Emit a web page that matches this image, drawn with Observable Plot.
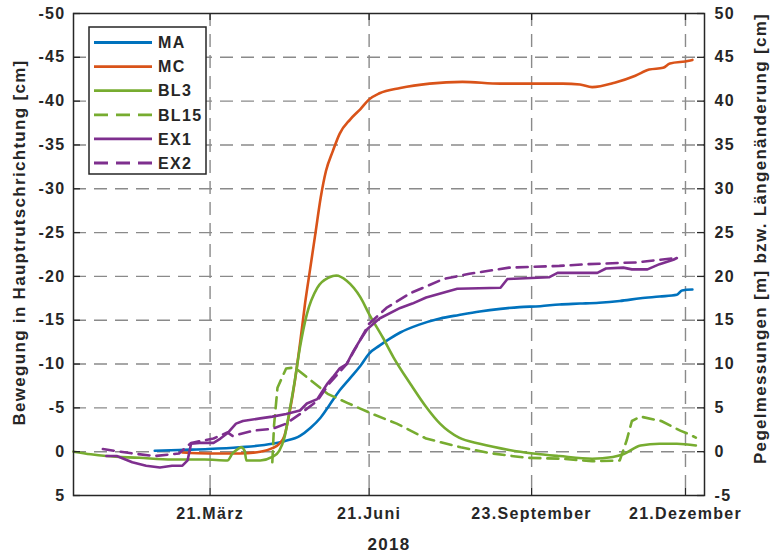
<!DOCTYPE html>
<html><head><meta charset="utf-8">
<script src="https://cdn.jsdelivr.net/npm/d3@7"></script>
<script src="https://cdn.jsdelivr.net/npm/@observablehq/plot@0.6"></script>
<style>
body{margin:0;background:#fff;}
#chart{position:relative;width:771px;height:555px;}
</style></head><body><div id="chart"></div>
<script>
// ---- data (dates in 2018, values as on the right axis; left axis shows the negated value) ----
const MA = [["2018-02-17",0.1],["2018-03-03",0.2],["2018-03-20",0.3],["2018-04-07",0.5],["2018-04-26",0.9],["2018-05-03",1.2],["2018-05-12",1.8],["2018-05-18",2.7],["2018-05-24",3.9],["2018-05-29",5.3],["2018-06-04",7.0],["2018-06-10",8.4],["2018-06-16",9.8],["2018-06-21",11.2],["2018-06-27",12.1],["2018-07-03",12.9],["2018-07-09",13.6],["2018-07-20",14.5],["2018-08-01",15.2],["2018-08-12",15.6],["2018-08-24",16.0],["2018-09-05",16.3],["2018-09-16",16.5],["2018-09-28",16.6],["2018-10-09",16.8],["2018-10-21",16.9],["2018-11-01",17.0],["2018-11-13",17.2],["2018-11-25",17.5],["2018-12-06",17.7],["2018-12-16",17.9],["2018-12-19",18.4],["2018-12-25",18.5]];
const MC = [["2018-03-05",-0.1],["2018-03-20",-0.2],["2018-04-07",-0.2],["2018-04-19",0.0],["2018-04-26",0.4],["2018-04-30",0.9],["2018-05-03",1.8],["2018-05-06",4.5],["2018-05-09",8.0],["2018-05-12",12.3],["2018-05-15",17.0],["2018-05-18",21.0],["2018-05-21",25.0],["2018-05-24",29.0],["2018-05-27",32.0],["2018-05-31",34.3],["2018-06-04",36.3],["2018-06-10",37.9],["2018-06-16",39.1],["2018-06-21",40.2],["2018-06-27",40.9],["2018-07-09",41.5],["2018-07-26",42.0],["2018-08-14",42.2],["2018-09-05",42.0],["2018-09-22",42.0],["2018-10-11",42.0],["2018-10-21",41.9],["2018-10-28",41.6],["2018-11-10",42.1],["2018-11-22",42.9],["2018-11-30",43.6],["2018-12-08",43.8],["2018-12-12",44.3],["2018-12-23",44.6],["2018-12-25",44.7]];
const BL3 = [["2018-01-01",0.0],["2018-01-11",-0.3],["2018-01-20",-0.5],["2018-02-08",-0.7],["2018-02-27",-0.9],["2018-03-18",-0.9],["2018-03-31",-1.0],["2018-04-03",-0.2],["2018-04-06",0.3],["2018-04-08",0.5],["2018-04-10",0.1],["2018-04-11",-1.0],["2018-04-19",-1.0],["2018-04-26",-0.6],["2018-04-30",0.1],["2018-05-03",1.6],["2018-05-06",4.7],["2018-05-09",8.1],["2018-05-12",11.9],["2018-05-16",15.7],["2018-05-22",18.7],["2018-05-29",19.9],["2018-06-02",20.1],["2018-06-08",19.5],["2018-06-16",17.6],["2018-06-21",15.7],["2018-06-29",13.0],["2018-07-05",10.8],["2018-07-15",7.7],["2018-07-24",5.1],["2018-08-01",3.2],["2018-08-12",1.6],["2018-08-24",0.9],["2018-09-10",0.2],["2018-09-24",-0.2],["2018-10-09",-0.5],["2018-10-28",-0.8],["2018-11-09",-0.6],["2018-11-15",-0.3],["2018-11-25",0.7],["2018-12-06",0.9],["2018-12-16",0.9],["2018-12-27",0.7]];
const BL15 = [["2018-04-26",-1.2],["2018-04-27",3.0],["2018-04-29",7.3],["2018-05-04",9.5],["2018-05-09",9.6],["2018-05-16",8.5],["2018-05-28",6.6],["2018-06-08",5.6],["2018-06-23",4.3],["2018-07-07",3.2],["2018-07-24",1.5],["2018-08-13",0.5],["2018-08-31",-0.2],["2018-09-20",-0.7],["2018-10-10",-0.8],["2018-10-28",-1.1],["2018-11-13",-1.0],["2018-11-17",1.3],["2018-11-20",3.5],["2018-11-25",4.0],["2018-12-07",3.5],["2018-12-18",2.4],["2018-12-23",2.0],["2018-12-27",1.6]];
const EX1 = [["2018-01-20",-0.5],["2018-01-26",-0.5],["2018-02-04",-1.2],["2018-02-12",-1.6],["2018-02-20",-1.8],["2018-02-27",-1.6],["2018-03-05",-1.6],["2018-03-08",-1.0],["2018-03-10",0.9],["2018-03-15",1.0],["2018-03-23",1.0],["2018-03-27",1.5],["2018-03-31",2.1],["2018-04-05",3.2],["2018-04-09",3.5],["2018-04-19",3.8],["2018-04-26",4.0],["2018-05-04",4.3],["2018-05-12",4.7],["2018-05-16",5.5],["2018-05-22",6.0],["2018-05-28",7.8],["2018-05-31",8.5],["2018-06-04",9.5],["2018-06-08",10.0],["2018-06-12",11.5],["2018-06-16",12.8],["2018-06-20",14.0],["2018-06-27",15.2],["2018-07-09",16.4],["2018-07-16",16.9],["2018-07-24",17.6],["2018-08-11",18.6],["2018-09-05",18.7],["2018-09-09",19.7],["2018-10-03",19.9],["2018-10-08",20.4],["2018-10-31",20.4],["2018-11-05",20.9],["2018-11-15",21.0],["2018-11-20",20.8],["2018-11-29",20.8],["2018-12-06",21.4],["2018-12-14",21.9],["2018-12-16",22.1]];
const EX2 = [["2018-01-18",0.3],["2018-02-04",-0.2],["2018-02-17",-0.5],["2018-03-03",-0.2],["2018-03-10",1.0],["2018-03-23",1.5],["2018-03-31",2.2],["2018-04-03",1.8],["2018-04-15",2.4],["2018-04-26",2.6],["2018-05-04",3.2],["2018-05-12",4.3],["2018-05-22",5.8],["2018-05-29",7.8],["2018-06-08",10.0],["2018-06-16",12.8],["2018-06-21",14.6],["2018-07-01",16.4],["2018-07-15",18.1],["2018-08-03",19.7],["2018-08-18",20.3],["2018-09-10",21.0],["2018-10-09",21.2],["2018-10-25",21.4],["2018-11-23",21.6],["2018-12-06",21.9],["2018-12-16",22.1]];

const seriesNames = ["MA","MC","BL3","BL15","EX1","EX2"];
const seriesData = [MA, MC, BL3, BL15, EX1, EX2];
const xTickDates = ["2018-03-21","2018-06-21","2018-09-23","2018-12-21"];
const xTickLabels = ["21.März","21.Juni","23.September","21.Dezember"];
const yTicks = [-5,0,5,10,15,20,25,30,35,40,45,50];
const xDomain = ["2018-01-01","2019-01-01"];
const xLabel = "2018";
const yLeftLabel = "Bewegung in Hauptrutschrichtung [cm]";
const yRightLabel = "Pegelmessungen [m] bzw. Längenänderung [cm]";

// ---- styles ----
const seriesColor = {MA:"#0072BD", MC:"#D95319", BL3:"#77AC30", BL15:"#77AC30", EX1:"#7E2F8E", EX2:"#7E2F8E"};
const seriesDash = {MA:null, MC:null, BL3:null, BL15:"11,7", EX1:null, EX2:"11,7"};
const seriesCurve = {MA:"monotone-x", MC:"monotone-x", BL3:"monotone-x", BL15:"linear", EX1:"linear", EX2:"linear"};
const W = 771, H = 555, mL = 73, mR = 67, mT = 13, mB = 60;
const iW = W - mL - mR, iH = H - mT - mB;
const ink = "#262626";
const font = "'Liberation Sans', Arial, Helvetica, sans-serif";

const rows = seriesNames.map((name, k) => seriesData[k].map(([d, v]) => ({series: name, date: new Date(d), value: v})));
const xDates = xTickDates.map(d => new Date(d));
const labelOf = new Map(xDates.map((d, i) => [+d, xTickLabels[i]]));
const gridStyle = {stroke: "#8a8a8a", strokeWidth: 1.4, strokeOpacity: 1, strokeDasharray: "13,8"};

const lineMarks = seriesNames.map((name, k) => Plot.line(rows[k], {
  x: "date", y: "value", stroke: seriesColor[name], strokeWidth: 2.6,
  strokeDasharray: seriesDash[name], curve: seriesCurve[name]
}));

const chart = Plot.plot({
  width: W, height: H,
  marginLeft: mL, marginRight: mR, marginTop: mT, marginBottom: mB,
  style: {fontFamily: font, fontSize: "16px", fontWeight: "bold", color: ink, background: "#fff", letterSpacing: "1.3px"},
  x: {type: "utc", domain: xDomain.map(d => new Date(d))},
  y: {domain: [-5, 50]},
  marks: [
    Plot.gridY(yTicks.filter(v => v > -5 && v < 50), gridStyle),
    Plot.gridX(xDates, gridStyle),
    ...lineMarks,
    Plot.frame({stroke: ink, strokeWidth: 1.5}),
    Plot.tickY(yTicks, {y: d => d, insetRight: iW - 7, stroke: ink, strokeWidth: 1.3}),
    Plot.tickY(yTicks, {y: d => d, insetLeft: iW - 7, stroke: ink, strokeWidth: 1.3}),
    Plot.tickX(xDates, {x: d => d, insetTop: iH - 7, stroke: ink, strokeWidth: 1.3}),
    Plot.tickX(xDates, {x: d => d, insetBottom: iH - 7, stroke: ink, strokeWidth: 1.3}),
    Plot.axisY(yTicks, {anchor: "left", tickSize: 0, tickPadding: 8, tickFormat: d => String(-d), label: null, fill: ink}),
    Plot.axisY(yTicks, {anchor: "right", tickSize: 0, tickPadding: 10, tickFormat: d => String(d), label: null, fill: ink}),
    Plot.axisX(xDates, {anchor: "bottom", tickSize: 0, tickPadding: 12, tickFormat: d => labelOf.get(+d), label: null, fill: ink}),
    Plot.text([xLabel], {text: d => d, frameAnchor: "bottom", textAnchor: "middle", lineAnchor: "middle", dy: 49, fill: ink, fontSize: 17}),
    Plot.text([yLeftLabel], {text: d => d, frameAnchor: "left", textAnchor: "middle", rotate: -90, lineAnchor: "middle", dx: -54, dy: -12, fill: ink, fontSize: 17}),
    Plot.text([yRightLabel], {text: d => d, frameAnchor: "right", textAnchor: "middle", rotate: -90, lineAnchor: "middle", dx: 56, dy: -16, fill: ink, fontSize: 17})
  ]
});
document.getElementById("chart").appendChild(chart);

// ---- legend overlay ----
const lg = d3.select("#chart").append("svg")
  .attr("width", W).attr("height", H)
  .style("position", "absolute").style("left", "0px").style("top", "0px")
  .style("font-family", font).style("font-weight", "bold").style("font-size", "16px").style("letter-spacing", "1.3px");
const box = {x: 89, y: 27, w: 117, h: 147, row0: 42.5, dy: 24.1};
lg.append("rect").attr("x", box.x).attr("y", box.y).attr("width", box.w).attr("height", box.h)
  .attr("fill", "#fff").attr("stroke", ink).attr("stroke-width", 1.5);
seriesNames.forEach((name, i) => {
  const yy = box.row0 + i * box.dy;
  lg.append("line").attr("x1", box.x + 5).attr("x2", box.x + 63).attr("y1", yy).attr("y2", yy)
    .attr("stroke", seriesColor[name]).attr("stroke-width", 2.8)
    .attr("stroke-dasharray", seriesDash[name] ? "14,8" : null);
  lg.append("text").attr("x", box.x + 69).attr("y", yy).attr("dy", "0.36em").attr("fill", ink).text(name);
});
</script>
</body></html>
